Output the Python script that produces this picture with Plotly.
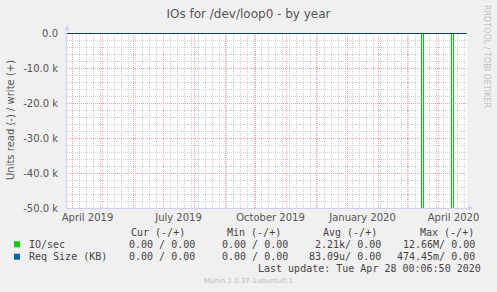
import plotly.graph_objects as go

# ---------------- data ----------------
title_text = "IOs for /dev/loop0 - by year"
y_title = "Units read (-) / write (+)"

# IO/sec: read shown negative, write positive (sparse daily samples, zero elsewhere)
io_dates = ["2019-03-26", "2020-03-15", "2020-03-17", "2020-04-14", "2020-04-16", "2020-04-29"]
io_read = [0, 12.66e6, 0, 3.5e6, 0, 0]
io_write = [0, 0, 0, 0, 0, 0]

req_dates = ["2019-03-26", "2020-04-29"]
req_read = [0, 0]
req_write = [0, 0]

y_tick_vals = [0, -10000, -20000, -30000, -40000, -50000]
y_tick_text = ["0.0", "-10.0 k", "-20.0 k", "-30.0 k", "-40.0 k", "-50.0 k"]

x_label_vals = ["2019-04-16", "2019-07-16", "2019-10-16", "2020-01-16", "2020-04-16"]
x_label_text = ["April 2019", "July 2019", "October 2019", "January 2020", "April 2020"]

legend_names = ["IO/sec", "Req Size (KB)"]
legend_colors = ["#00CC00", "#0066B3"]
col_headers = ["Cur (-/+)", "Min (-/+)", "Avg (-/+)", "Max (-/+)"]
col_values = [
    ["0.00 / 0.00", "0.00 / 0.00", "2.21k/ 0.00", "12.66M/ 0.00"],
    ["0.00 / 0.00", "0.00 / 0.00", "83.09u/ 0.00", "474.45m/ 0.00"],
]
last_update = "Last update: Tue Apr 28 00:06:50 2020"
munin_ver = "Munin 2.0.37-1ubuntu0.1"
side_text = "RRDTOOL / TOBI OETIKER"

x_range = ["2019-03-26 12:00", "2020-04-29 12:00"]
y_range = [-50000, 0]

# ---------------- layout helpers ----------------
W, H = 497, 292
L, R, T, B = 67, 30, 33, 84
PW, PH = W - L - R, H - T - B


def px(xp):
    return (xp - L) / PW


def py(yp):
    return (T + PH - yp) / PH


def shown(values, sign):
    # like rrdtool, values far outside the graph are drawn clipped just past its edge
    lo, hi = y_range[0] * 1.1, y_range[1] + 1e4
    return [min(max(sign * v, lo), hi) for v in values]


SANS = "DejaVu Sans"
MONO = "DejaVu Sans Mono"

fig = go.Figure()

# Req Size lives on the label axis (x2), IO/sec on the grid axis (x)
fig.add_trace(go.Scatter(x=req_dates, y=shown(req_read, -1), mode="lines",
                         line=dict(color=legend_colors[1], width=1, shape="hv"),
                         showlegend=False, hoverinfo="skip", xaxis="x2"))
fig.add_trace(go.Scatter(x=req_dates, y=shown(req_write, 1), mode="lines",
                         line=dict(color=legend_colors[1], width=1, shape="hv"),
                         showlegend=False, hoverinfo="skip", xaxis="x2"))
fig.add_trace(go.Scatter(x=io_dates, y=shown(io_read, -1), mode="lines",
                         line=dict(color=legend_colors[0], width=1, shape="hv"),
                         showlegend=False, hoverinfo="skip"))
fig.add_trace(go.Scatter(x=io_dates, y=shown(io_write, 1), mode="lines",
                         line=dict(color=legend_colors[0], width=1, shape="hv"),
                         showlegend=False, hoverinfo="skip"))

MAJ = "#f2a0a0"
MIN = "#d0d0d0"
AXC = "#ccccff"
DASH = "1px,1px"

fig.update_layout(
    width=W, height=H,
    margin=dict(l=L, r=R, t=T, b=B, pad=0),
    paper_bgcolor="#f0f0f0",
    plot_bgcolor="#ffffff",
    title=dict(text=title_text, x=0.5, xref="container", xanchor="center",
               y=1 - 14 / H, yanchor="middle", yref="container",
               font=dict(family=SANS, size=12, color="#555555")),
    xaxis=dict(type="date", range=x_range, showticklabels=False,
               tickmode="linear", tick0="2019-04-01", dtick="M1",
               showgrid=True, gridcolor=MAJ, griddash=DASH, gridwidth=1,
               zeroline=False, ticks="", showline=True, linecolor=AXC, linewidth=1,
               minor=dict(tickmode="linear", tick0="2019-04-01", dtick=7 * 86400000,
                          showgrid=True, gridcolor=MIN, griddash=DASH, gridwidth=1)),
    xaxis2=dict(type="date", range=x_range, overlaying="x", side="bottom",
                showgrid=False, zeroline=False, showline=False,
                tickmode="array", tickvals=x_label_vals, ticktext=x_label_text,
                ticks="", tickfont=dict(family=SANS, size=10, color="#555555"),
                ticklabelstandoff=2),
    yaxis=dict(range=y_range, tickmode="array", tickvals=y_tick_vals, ticktext=y_tick_text,
               showgrid=True, gridcolor=MAJ, griddash=DASH, gridwidth=1,
               zeroline=False, ticks="", showline=True, linecolor=AXC, linewidth=1,
               tickfont=dict(family=SANS, size=10, color="#555555"),
               ticklabelstandoff=6,
               minor=dict(tickmode="linear", tick0=0, dtick=2000, showgrid=True,
                          gridcolor=MIN, griddash=DASH, gridwidth=1)),
    showlegend=False,
)

# zero rule (black)
fig.add_hline(y=0, line=dict(color="#000000", width=1))

annotations = []
# axis arrows
annotations.append(dict(xref="paper", yref="paper", x=0, y=1 + 8 / PH, ax=0, ay=8,
                        showarrow=True, arrowhead=2, arrowsize=1, arrowwidth=1,
                        arrowcolor=AXC, text=""))
annotations.append(dict(xref="paper", yref="paper", x=1 + 6 / PW, y=0, ax=-6, ay=0,
                        showarrow=True, arrowhead=2, arrowsize=1, arrowwidth=1,
                        arrowcolor=AXC, text=""))
# y title
annotations.append(dict(xref="paper", yref="paper", x=px(10), y=py(120), text=y_title,
                        textangle=-90, showarrow=False, xanchor="center", yanchor="middle",
                        font=dict(family=SANS, size=10, color="#555555")))
# side text
annotations.append(dict(xref="paper", yref="paper", x=px(487), y=py(56), text=side_text,
                        textangle=90, showarrow=False, xanchor="center", yanchor="middle",
                        font=dict(family=SANS, size=8, color="#c0c0c0")))

# legend table
hdr_right = [187, 283, 379, 476]
val_right = [197, 290, 383, 477]
row_y = [244.3, 256.7]
for i, h in enumerate(col_headers):
    annotations.append(dict(xref="paper", yref="paper", x=px(hdr_right[i]), y=py(232.3),
                            text=h.replace(" ", "&nbsp;"), showarrow=False, xanchor="right",
                            yanchor="middle", font=dict(family=MONO, size=10, color="#444444")))
for r, name in enumerate(legend_names):
    annotations.append(dict(xref="paper", yref="paper", x=px(26.5), y=py(row_y[r]),
                            text=name.replace(" ", "&nbsp;"), showarrow=False, xanchor="left",
                            yanchor="middle", font=dict(family=MONO, size=10, color="#444444")))
    for c, v in enumerate(col_values[r]):
        annotations.append(dict(xref="paper", yref="paper", x=px(val_right[c]), y=py(row_y[r]),
                                text=v.replace(" ", "&nbsp;"), showarrow=False, xanchor="right",
                                yanchor="middle", font=dict(family=MONO, size=10, color="#444444")))
    fig.add_shape(type="rect", xref="paper", yref="paper",
                  x0=px(14), x1=px(20), y0=py(row_y[r] + 3), y1=py(row_y[r] - 3),
                  fillcolor=legend_colors[r], line=dict(width=0))

annotations.append(dict(xref="paper", yref="paper", x=px(483), y=py(268.7),
                        text=last_update.replace(" ", "&nbsp;"), showarrow=False, xanchor="right",
                        yanchor="middle", font=dict(family=MONO, size=10, color="#444444")))
annotations.append(dict(xref="paper", yref="paper", x=px(248.5), y=py(281), text=munin_ver,
                        showarrow=False, xanchor="center", yanchor="middle",
                        font=dict(family=SANS, size=7, color="#bbbbbb")))

fig.update_layout(annotations=annotations)

fig.write_html("out.html")
